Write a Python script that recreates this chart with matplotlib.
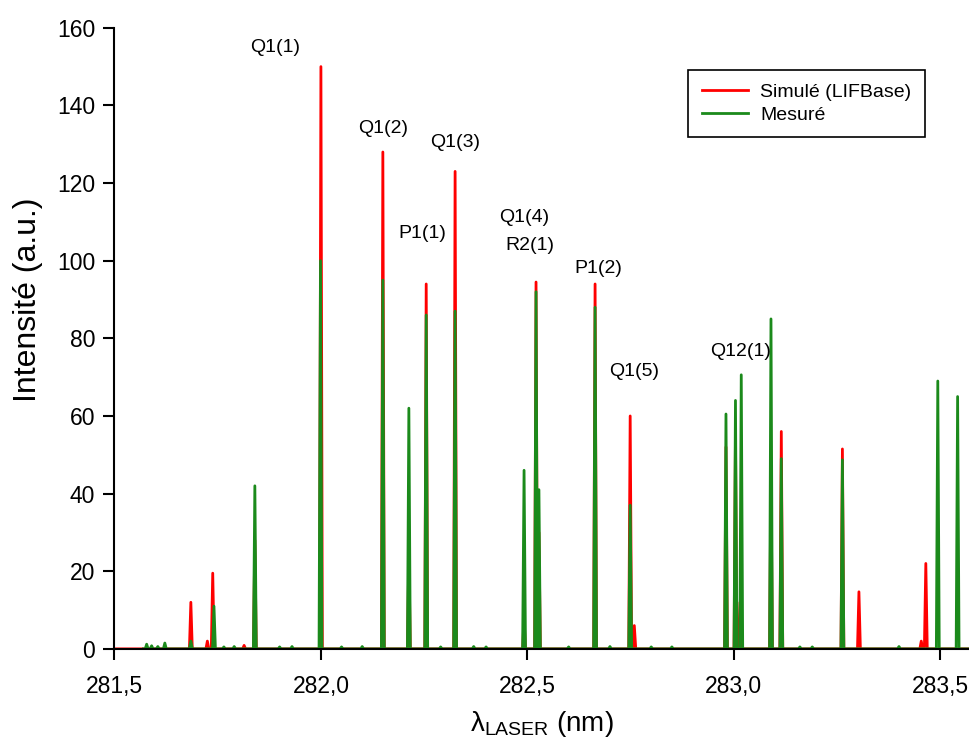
import numpy as np
import matplotlib
matplotlib.use("Agg")
import matplotlib.pyplot as plt
from matplotlib.ticker import FuncFormatter

plt.rcParams['font.family'] = ['Liberation Sans', 'DejaVu Sans']

# --- peak lists (nm, intensity) ---
sim_pos = [281.685, 281.725, 281.738, 281.814, 281.840, 282.000, 282.150, 282.213,
           282.255, 282.325, 282.492, 282.521, 282.528, 282.664, 282.749, 282.759,
           282.981, 283.004, 283.015, 283.090, 283.115, 283.263, 283.303, 283.454,
           283.465]
sim_h = [12, 2, 19.5, 0.9, 28, 150, 128, 25,
         94, 123, 8, 94.5, 30, 94, 60, 6,
         52, 55, 12, 45, 56, 51.5, 14.7, 2,
         22]

mes_pos = [281.578, 281.590, 281.605, 281.622, 281.685, 281.741, 281.765, 281.790,
           281.840, 281.900, 281.930, 281.999, 282.050, 282.100, 282.150, 282.213,
           282.255, 282.290, 282.325, 282.370, 282.400, 282.492, 282.521, 282.528,
           282.600, 282.664, 282.700, 282.749, 282.800, 282.850, 282.981, 283.004,
           283.018, 283.090, 283.115, 283.160, 283.190, 283.263, 283.400, 283.494,
           283.542]
mes_h = [1.2, 0.8, 0.6, 1.5, 2, 11, 0.5, 0.6,
         42, 0.5, 0.6, 100, 0.5, 0.6, 95, 62,
         86, 0.5, 87, 0.6, 0.5, 46, 92, 41,
         0.5, 88, 0.6, 37, 0.5, 0.5, 60.5, 64,
         70.6, 85, 49, 0.5, 0.5, 48.7, 0.6, 69,
         65]

labels = ["Q1(1)", "Q1(2)", "Q1(3)", "P1(1)", "Q1(4)", "R2(1)", "P1(2)", "Q1(5)", "Q12(1)"]
label_x = [281.889, 282.150, 282.325, 282.245, 282.492, 282.507, 282.671, 282.759, 283.016]
label_y = [155, 134, 130.5, 107, 111, 104, 98, 71.5, 76.5]


def spectrum(pos, h, x0, x1, w=0.0035):
    xs, ys = [x0], [0]
    for c, v in sorted(zip(pos, h)):
        xs += [c - w, c, c + w]
        ys += [0, v, 0]
    xs.append(x1)
    ys.append(0)
    return xs, ys


fig = plt.figure(figsize=(9.7, 7.51), dpi=100)
ax = fig.add_axes([0.118, 0.136, 0.882, 0.827])

xs, ys = spectrum(sim_pos, sim_h, 281.5, 283.6)
ax.plot(xs, ys, color='#ff0000', lw=2, label='Simulé (LIFBase)')
xs, ys = spectrum(mes_pos, mes_h, 281.57, 283.6)
ax.plot(xs, ys, color='#1b8a1b', lw=2, label='Mesuré')

for t, x, y in zip(labels, label_x, label_y):
    ax.text(x, y, t, ha='center', va='center', fontsize=14)

ax.set_xlim(281.5, 283.572)
ax.set_ylim(0, 160)
ax.set_xticks([281.5, 282.0, 282.5, 283.0, 283.5])
ax.set_yticks(range(0, 161, 20))
ax.xaxis.set_major_formatter(FuncFormatter(lambda v, p: f"{v:.1f}".replace('.', ',')))
ax.tick_params(direction='out', length=8, width=1.5, labelsize=16.5)
ax.tick_params(axis='x', pad=11)
ax.tick_params(axis='y', pad=6)
for s in ['top', 'right']:
    ax.spines[s].set_visible(False)
for s in ['left', 'bottom']:
    ax.spines[s].set_linewidth(1.5)

ax.set_ylabel('Intensité (a.u.)', fontsize=23)
ax.yaxis.set_label_coords(-0.083, 0.562)
ax.set_xlabel(r'$\mathregular{\lambda_{LASER}}$ (nm)', fontsize=20, labelpad=8)

leg = ax.legend(loc='upper right', bbox_to_anchor=(0.947, 0.932), fontsize=14,
                fancybox=False, edgecolor='black', framealpha=1,
                handlelength=2.4, handletextpad=0.6, borderpad=0.7,
                labelspacing=0.25, borderaxespad=0)
leg.get_frame().set_linewidth(1.2)

fig.savefig('out.png', dpi=100)
